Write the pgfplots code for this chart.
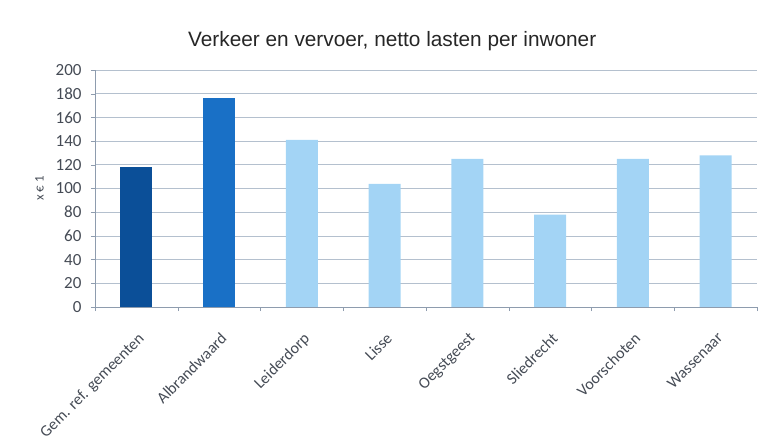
\documentclass[border=0pt]{standalone}
\usepackage{fontspec}
\setmainfont{Carlito}
\newfontfamily\titlefont{Liberation Sans}
\usepackage{pgfplots}
\pgfplotsset{compat=1.18}
\definecolor{cdark}{HTML}{0B4F98}
\definecolor{cmid}{HTML}{1970C6}
\definecolor{clight}{HTML}{A3D4F5}
\definecolor{gridc}{HTML}{B4C0CE}
\definecolor{axc}{HTML}{8E9CAE}
\definecolor{txt}{HTML}{454B55}
\begin{document}
\begin{tikzpicture}
\useasboundingbox (0,0) rectangle (767bp,447bp);
\begin{axis}[
  at={(95bp,140bp)}, anchor=south west,
  scale only axis, width=662bp, height=237bp,
  xmin=-0.5, xmax=7.5, ymin=0, ymax=200,
  ytick={0,20,...,200},
  xtick={0,...,7},
  xticklabels={Gem. ref. gemeenten, Albrandwaard, Leiderdorp, Lisse, Oegstgeest, Sliedrecht, Voorschoten, Wassenaar},
  minor xtick={-0.5,0.5,...,7.5},
  major x tick style={draw=none},
  minor x tick style={axc},
  y tick style={axc},
  tick align=outside,
  major tick length=4bp, minor tick length=4bp,
  axis x line*=bottom, axis y line*=left,
  axis line style={axc},
  ymajorgrids, grid style={gridc, line width=0.8pt},
  /pgf/number format/assume math mode=true,
  tick label style={text=txt},
  yticklabel style={font=\fontsize{17bp}{19bp}\selectfont, xshift=-6bp},
  xticklabel style={font=\fontsize{16bp}{18bp}\selectfont, rotate=45, anchor=north east, inner sep=1pt, xshift=-13bp, yshift=-14bp},
  ylabel={x € 1},
  ylabel style={font=\fontsize{13bp}{15bp}\selectfont, text=txt, at={(-0.072,0.5)}},
  title={Verkeer en vervoer, netto lasten per inwoner},
  title style={font=\titlefont\fontsize{20.8bp}{24bp}\selectfont, text=black!85, at={(0.449,1.095)}, anchor=center},
  ybar, bar width=32bp, bar shift=0pt,
]
\addplot[fill=cdark, draw=none] coordinates {(0,118)};
\addplot[fill=cmid, draw=none] coordinates {(1,176)};
\addplot[fill=clight, draw=none] coordinates {(2,141) (3,104) (4,125) (5,78) (6,125) (7,128)};
\end{axis}
\end{tikzpicture}
\end{document}
